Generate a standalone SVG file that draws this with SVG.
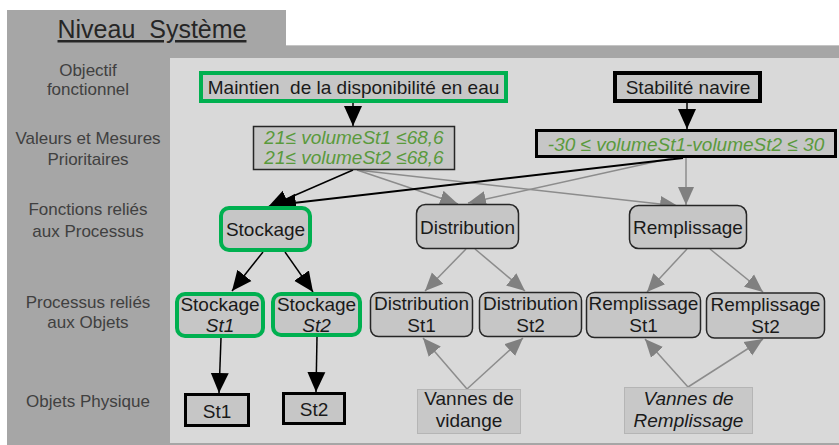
<svg xmlns="http://www.w3.org/2000/svg" width="839" height="445" viewBox="0 0 839 445">
<style>
text{font-family:"Liberation Sans",Arial,sans-serif}
.lbl{font-size:17px;fill:#404040;text-anchor:middle}
.t{font-size:19px;fill:#1a1a1a;text-anchor:middle}
.it{font-style:italic}
.g{fill:#5a9a3c;font-style:italic}
.box{fill:#c6c6c6}
.green{stroke:#00b050;stroke-width:4}
.thin{stroke:#262626;stroke-width:1.5}
.thick{stroke:#000;stroke-width:4}
.mid{stroke:#000;stroke-width:3}
.pale{fill:#c8c8c8;stroke:#b5b5b5;stroke-width:1}
.ck{stroke:#000;stroke-width:1.5;fill:none;marker-end:url(#ab)}
.cg{stroke:#8c8c8c;stroke-width:1.5;fill:none;marker-end:url(#ag)}
</style>
<defs>
<marker id="ab" markerUnits="userSpaceOnUse" markerWidth="20" markerHeight="20" refX="20" refY="10" orient="auto"><path d="M0,1 L20,10 L0,19 z" fill="#000"/></marker>
<marker id="ag" markerUnits="userSpaceOnUse" markerWidth="18" markerHeight="18" refX="18" refY="9" orient="auto"><path d="M0,1 L18,9 L0,17 z" fill="#808080"/></marker>
</defs>
<g id="background">
<path d="M7,10 H286 V45 H839 V445 H7 Z" fill="#a6a6a6"/>
<line x1="286" y1="45.5" x2="839" y2="45.5" stroke="#c4c4c4" stroke-width="1"/>
<rect x="170" y="58" width="669" height="385" fill="#d9d9d9"/>
<text x="152" y="38" font-size="25" fill="#262626" text-anchor="middle" text-decoration="underline" xml:space="preserve">Niveau  Système</text>
</g>
<g id="row-labels">
<text class="lbl" x="88" y="76">Objectif</text>
<text class="lbl" x="88" y="95">fonctionnel</text>
<text class="lbl" x="88" y="144">Valeurs et Mesures</text>
<text class="lbl" x="88" y="165">Prioritaires</text>
<text class="lbl" x="88" y="215">Fonctions reliés</text>
<text class="lbl" x="88" y="237">aux Processus</text>
<text class="lbl" x="88" y="308">Processus reliés</text>
<text class="lbl" x="88" y="328">aux Objets</text>
<text class="lbl" x="88" y="407">Objets Physique</text>
</g>
<g id="connectors">
<line class="ck" x1="353" y1="103" x2="353" y2="126"/>
<line class="ck" x1="687" y1="103" x2="687" y2="129"/>
<line class="cg" x1="357" y1="170" x2="458" y2="204"/>
<line class="cg" x1="357" y1="170" x2="678" y2="206"/>
<line class="cg" x1="672" y1="158" x2="468" y2="203"/>
<line class="cg" x1="686" y1="158" x2="686" y2="205"/>
<line class="ck" x1="353" y1="170" x2="268" y2="207"/>
<line class="ck" style="stroke-width:2" x1="683" y1="158" x2="276" y2="205"/>
<line class="ck" x1="263" y1="252" x2="232" y2="291"/>
<line class="ck" x1="285" y1="252" x2="313" y2="292"/>
<line class="cg" x1="466" y1="249" x2="425" y2="291"/>
<line class="cg" x1="475" y1="249" x2="525" y2="291"/>
<line class="cg" x1="687" y1="249" x2="647" y2="292"/>
<line class="cg" x1="710" y1="249" x2="763" y2="292"/>
<line class="ck" x1="221" y1="338" x2="219" y2="393"/>
<line class="ck" x1="317" y1="337" x2="316" y2="392"/>
<line class="cg" x1="467" y1="389" x2="423" y2="338"/>
<line class="cg" x1="467" y1="389" x2="523" y2="338"/>
<line class="cg" x1="688" y1="387" x2="645" y2="339"/>
<line class="cg" x1="688" y1="387" x2="763" y2="339"/>
</g>
<g id="n-maintien">
<rect class="box green" x="201" y="73" width="305" height="28"/>
<text class="t" x="353.5" y="94" xml:space="preserve">Maintien  de la disponibilité en eau</text>
</g>
<g id="n-stabilite">
<rect class="box thick" x="615" y="73" width="145" height="28"/>
<text class="t" x="688" y="94">Stabilité navire</text>
</g>
<g id="n-valeurs1">
<rect class="box thin" x="253.5" y="126.5" width="201" height="43"/>
<text class="t g" x="354" y="143.5">21≤ volumeSt1 ≤68,6</text>
<text class="t g" x="354" y="164">21≤ volumeSt2 ≤68,6</text>
</g>
<g id="n-valeurs2">
<rect class="box mid" x="536.5" y="130.5" width="299" height="26"/>
<text class="t g" x="686" y="151">-30 ≤ volumeSt1-volumeSt2 ≤ 30</text>
</g>
<g id="n-stockage">
<rect class="box green" x="221" y="208" width="89" height="42" rx="8"/>
<text class="t" x="265.5" y="236">Stockage</text>
</g>
<g id="n-distribution">
<rect class="box thin" x="416.5" y="204.5" width="102" height="44" rx="9"/>
<text class="t" x="467.5" y="234">Distribution</text>
</g>
<g id="n-remplissage">
<rect class="box thin" x="629.5" y="205.5" width="117" height="43" rx="9"/>
<text class="t" x="688" y="234">Remplissage</text>
</g>
<g id="n-stockage-st1">
<rect class="box green" x="177" y="294" width="86" height="42" rx="8"/>
<text class="t" x="220" y="311">Stockage</text>
<text class="t it" x="220" y="332">St1</text>
</g>
<g id="n-stockage-st2">
<rect class="box green" x="273" y="294" width="87" height="41" rx="8"/>
<text class="t" x="316.5" y="311">Stockage</text>
<text class="t it" x="316.5" y="332">St2</text>
</g>
<g id="n-distribution-st1">
<rect class="box thin" x="370.5" y="292.5" width="102" height="44" rx="8"/>
<text class="t" x="421.5" y="310">Distribution</text>
<text class="t" x="421.5" y="332">St1</text>
</g>
<g id="n-distribution-st2">
<rect class="box thin" x="479.5" y="292.5" width="102" height="44" rx="8"/>
<text class="t" x="530.5" y="310">Distribution</text>
<text class="t" x="530.5" y="332">St2</text>
</g>
<g id="n-remplissage-st1">
<rect class="box thin" x="586.5" y="292.5" width="114" height="45" rx="8"/>
<text class="t" x="643.5" y="310">Remplissage</text>
<text class="t" x="643.5" y="332">St1</text>
</g>
<g id="n-remplissage-st2">
<rect class="box thin" x="706.5" y="293" width="118" height="45" rx="8"/>
<text class="t" x="765.5" y="311">Remplissage</text>
<text class="t" x="765.5" y="333">St2</text>
</g>
<g id="n-st1">
<rect class="box mid" x="185.5" y="394.5" width="63" height="31"/>
<text class="t" x="217" y="418">St1</text>
</g>
<g id="n-st2">
<rect class="box mid" x="283.5" y="393.5" width="61" height="30"/>
<text class="t" x="314" y="416">St2</text>
</g>
<g id="n-vannes-vidange">
<rect class="pale" x="417.5" y="389.5" width="103" height="44"/>
<text class="t" x="469" y="405">Vannes de</text>
<text class="t" x="469" y="427">vidange</text>
</g>
<g id="n-vannes-remplissage">
<rect class="pale" x="624.5" y="387.5" width="128" height="46"/>
<text class="t it" x="688.5" y="405">Vannes de</text>
<text class="t it" x="688.5" y="427">Remplissage</text>
</g>
</svg>
